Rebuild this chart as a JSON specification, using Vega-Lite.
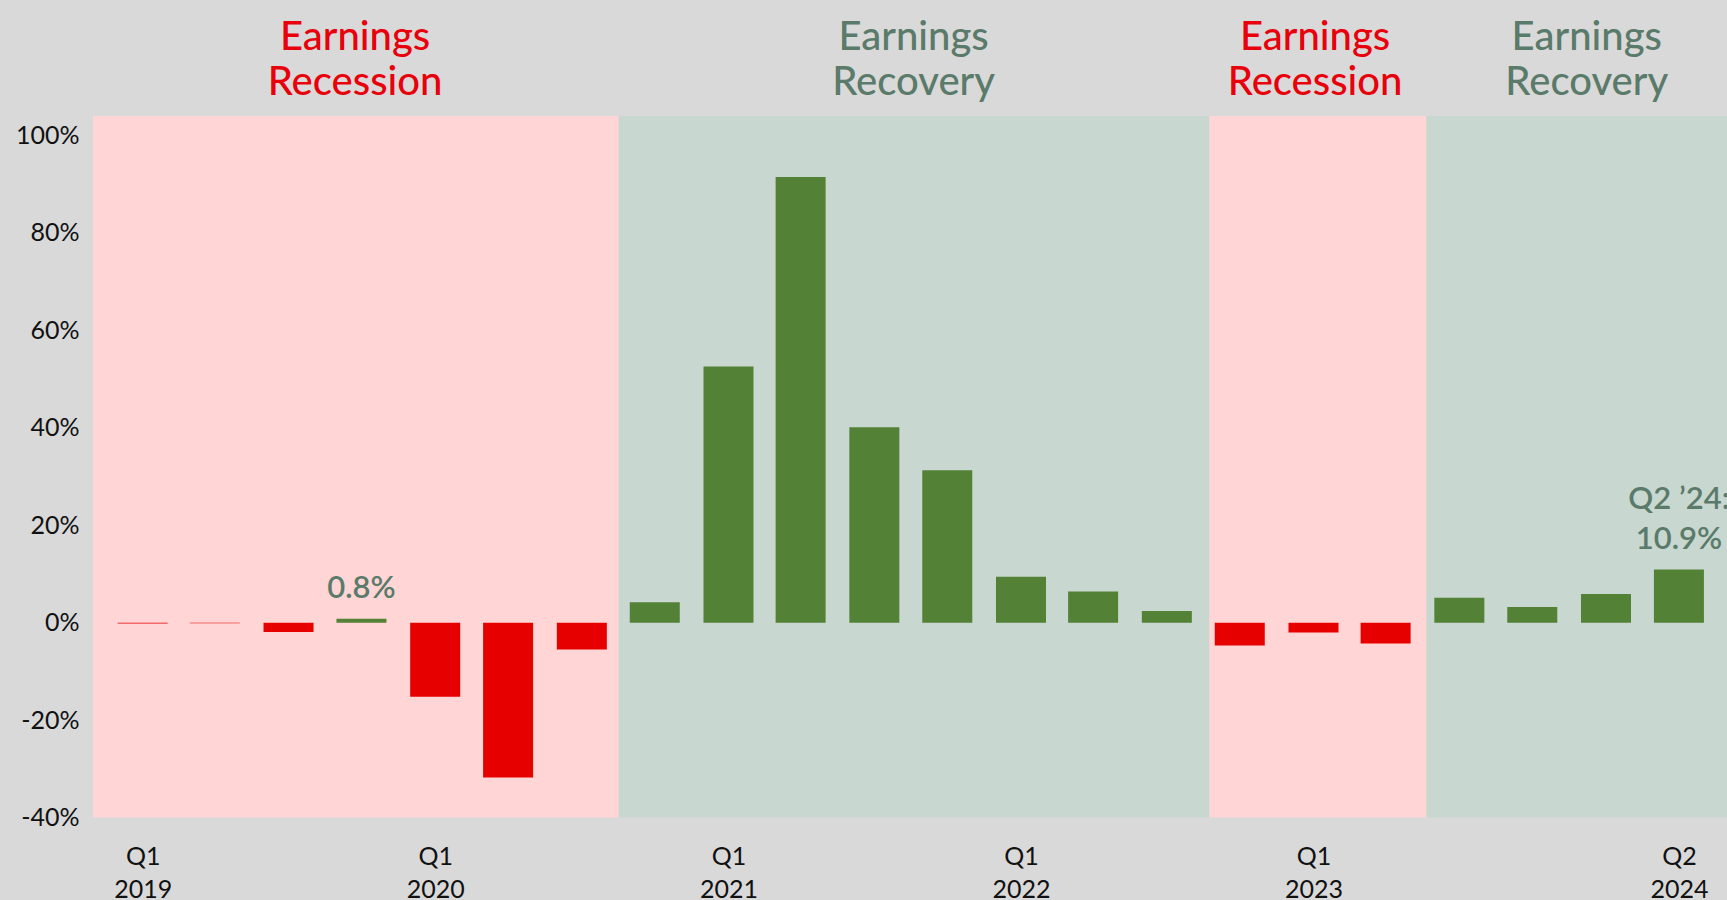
{
  "$schema": "https://vega.github.io/schema/vega-lite/v6.json",
  "width": 1634,
  "height": 701.5,
  "autosize": "none",
  "padding": {"left": 93, "top": 116, "right": 0, "bottom": 82.5},
  "background": "#d9d9d9",
  "config": {"view": {"stroke": null}, "font": "Lato"},
  "layer": [
    {
      "data": {
        "values": [
          {"phase": "Recession", "start": "2018-12-15", "end": "2020-10-01", "labelDate": "2019-11-07", "label": "Earnings\nRecession"},
          {"phase": "Recovery", "start": "2020-10-01", "end": "2022-10-08", "labelDate": "2021-10-04", "label": "Earnings\nRecovery"},
          {"phase": "Recession", "start": "2022-10-08", "end": "2023-07-06", "labelDate": "2023-02-17", "label": "Earnings\nRecession"},
          {"phase": "Recovery", "start": "2023-07-06", "end": "2024-07-15", "labelDate": "2024-01-22", "label": "Earnings\nRecovery"}
        ],
        "format": {"parse": {"start": "utc:'%Y-%m-%d'", "end": "utc:'%Y-%m-%d'", "labelDate": "utc:'%Y-%m-%d'"}}
      },
      "layer": [
        {
          "mark": {"type": "rect"},
          "encoding": {
            "x": {"field": "start", "type": "temporal", "scale": {"type": "utc", "padding": 0, "nice": false, "domain": [{"year": 2018, "month": 12, "date": 15, "utc": true}, {"year": 2024, "month": 7, "date": 15, "utc": true}]}, "axis": {"title": null, "values": [{"year": 2019, "month": 2, "date": 15, "utc": true}, {"year": 2020, "month": 2, "date": 15, "utc": true}, {"year": 2021, "month": 2, "date": 15, "utc": true}, {"year": 2022, "month": 2, "date": 15, "utc": true}, {"year": 2023, "month": 2, "date": 15, "utc": true}, {"year": 2024, "month": 5, "date": 16, "utc": true}], "labelExpr": "[utcFormat(datum.value, 'Q%q'), utcFormat(datum.value, '%Y')]", "domain": false, "ticks": false, "tickSize": 0, "grid": false, "labelPadding": 27, "labelFontSize": 25, "labelColor": "#111111", "labelLineHeight": 33, "labelFont": "Lato", "labelOverlap": false, "labelFlush": false}},
            "x2": {"field": "end"},
            "y": {"datum": 104, "type": "quantitative", "scale": {"domain": [-40, 104], "nice": false, "zero": false, "padding": 0}, "axis": {"title": null, "values": [-40, -20, 0, 20, 40, 60, 80, 100], "labelExpr": "datum.value + '%'", "domain": false, "ticks": false, "tickSize": 0, "grid": false, "labelPadding": 14, "labelFontSize": 25, "labelColor": "#111111", "labelFont": "Lato"}},
            "y2": {"datum": -40},
            "color": {"condition": {"test": "datum.phase == 'Recession'", "value": "#ffd5d5"}, "value": "#c8d7cf"}
          }
        },
        {
          "mark": {"type": "text", "lineBreak": "\n", "fontSize": 40, "lineHeight": 45, "baseline": "middle", "align": "center", "dy": -78, "font": "Lato", "fontWeight": 500},
          "encoding": {
            "x": {"field": "labelDate", "type": "temporal"},
            "y": {"datum": 104, "type": "quantitative"},
            "text": {"field": "label"},
            "color": {"condition": {"test": "datum.phase == 'Recession'", "value": "#e8000b"}, "value": "#5a7a6a"}
          }
        }
      ]
    },
    {
      "data": {
        "values": [
          {"quarter": "Q1 2019", "date": "2019-02-15", "value": -0.2},
          {"quarter": "Q2 2019", "date": "2019-05-16", "value": -0.1},
          {"quarter": "Q3 2019", "date": "2019-08-16", "value": -1.9},
          {"quarter": "Q4 2019", "date": "2019-11-15", "value": 0.8},
          {"quarter": "Q1 2020", "date": "2020-02-15", "value": -15.2},
          {"quarter": "Q2 2020", "date": "2020-05-16", "value": -31.8},
          {"quarter": "Q3 2020", "date": "2020-08-16", "value": -5.5},
          {"quarter": "Q4 2020", "date": "2020-11-15", "value": 4.2},
          {"quarter": "Q1 2021", "date": "2021-02-15", "value": 52.6},
          {"quarter": "Q2 2021", "date": "2021-05-16", "value": 91.5},
          {"quarter": "Q3 2021", "date": "2021-08-16", "value": 40.1},
          {"quarter": "Q4 2021", "date": "2021-11-15", "value": 31.3},
          {"quarter": "Q1 2022", "date": "2022-02-15", "value": 9.4},
          {"quarter": "Q2 2022", "date": "2022-05-16", "value": 6.4},
          {"quarter": "Q3 2022", "date": "2022-08-16", "value": 2.4},
          {"quarter": "Q4 2022", "date": "2022-11-15", "value": -4.7},
          {"quarter": "Q1 2023", "date": "2023-02-15", "value": -2.0},
          {"quarter": "Q2 2023", "date": "2023-05-16", "value": -4.3},
          {"quarter": "Q3 2023", "date": "2023-08-16", "value": 5.1},
          {"quarter": "Q4 2023", "date": "2023-11-15", "value": 3.2},
          {"quarter": "Q1 2024", "date": "2024-02-15", "value": 5.9},
          {"quarter": "Q2 2024", "date": "2024-05-16", "value": 10.9}
        ],
        "format": {"parse": {"date": "utc:'%Y-%m-%d'"}}
      },
      "mark": {"type": "bar", "width": 50},
      "encoding": {
        "x": {"field": "date", "type": "temporal"},
        "y": {"field": "value", "type": "quantitative"},
        "color": {"condition": {"test": "datum.value < 0", "value": "#e60000"}, "value": "#538135"}
      }
    },
    {
      "mark": {"type": "rule", "color": "#000000", "strokeWidth": 2.6},
      "encoding": {
        "x": {"datum": {"year": 2019, "month": 1, "date": 1, "utc": true}, "type": "temporal"},
        "x2": {"datum": {"year": 2024, "month": 7, "date": 1, "utc": true}},
        "y": {"datum": 0, "type": "quantitative"}
      }
    },
    {
      "data": {
        "values": [
          {"date": "2019-11-15", "value": 0.8, "label": "0.8%"}
        ],
        "format": {"parse": {"date": "utc:'%Y-%m-%d'"}}
      },
      "mark": {"type": "text", "fontSize": 31, "baseline": "bottom", "align": "center", "dy": -13.5, "fontWeight": 600, "color": "#5a7a6a", "font": "Lato"},
      "encoding": {
        "x": {"field": "date", "type": "temporal"},
        "y": {"field": "value", "type": "quantitative"},
        "text": {"field": "label"}
      }
    },
    {
      "data": {
        "values": [
          {"date": "2024-05-16", "value": 10.9, "label": "Q2 ’24:\n10.9%"}
        ],
        "format": {"parse": {"date": "utc:'%Y-%m-%d'"}}
      },
      "mark": {"type": "text", "lineBreak": "\n", "fontSize": 31, "lineHeight": 40, "baseline": "bottom", "align": "center", "dy": -53.5, "fontWeight": 600, "color": "#5a7a6a", "font": "Lato"},
      "encoding": {
        "x": {"field": "date", "type": "temporal"},
        "y": {"field": "value", "type": "quantitative"},
        "text": {"field": "label"}
      }
    }
  ]
}
